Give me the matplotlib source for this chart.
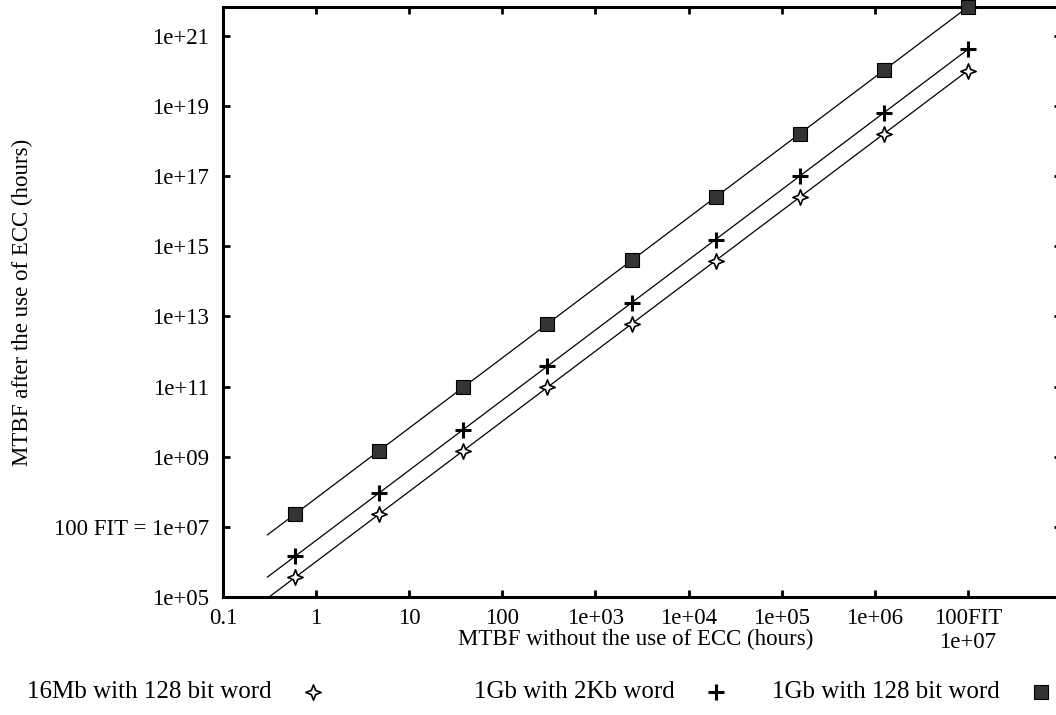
import matplotlib.pyplot as plt
from matplotlib.lines import Line2D
from matplotlib.path import Path

plt.rcParams["font.family"] = ["Liberation Serif", "DejaVu Serif"]

# MTBF without ECC (hours) at the sampled points
mtbf_no_ecc = [0.596, 4.77, 38.1, 305, 2441, 19531, 156250, 1.25e6, 1e7]

# MTBF with ECC (hours) for each memory configuration
mtbf_16mb_128 = [3.6e5, 2.3e7, 1.5e9, 9.5e10, 6.1e12, 3.9e14, 2.5e16, 1.6e18, 1.02e20]
mtbf_1gb_2kb = [1.45e6, 9.3e7, 5.9e9, 3.8e11, 2.4e13, 1.55e15, 9.9e16, 6.3e18, 4.07e20]
mtbf_1gb_128 = [2.34e7, 1.5e9, 9.6e10, 6.15e12, 3.94e14, 2.52e16, 1.61e18, 1.03e20, 6.6e21]

# fitted curves, drawn between their end points
curve_x = [0.3, 1e7]
curve_16mb_128 = [9.2e4, 1.02e20]
curve_1gb_2kb = [3.7e5, 4.07e20]
curve_1gb_128 = [5.9e6, 6.6e21]

series_labels = ["16Mb with 128 bit word", "1Gb with 2Kb word", "1Gb with 128 bit word"]

x_ticks = [0.1, 1, 10, 100, 1e3, 1e4, 1e5, 1e6, 1e7]
x_ticklabels = ["0.1", "1", "10", "100", "1e+03", "1e+04", "1e+05", "1e+06", "100FIT\n1e+07"]
y_ticks = [1e5, 1e7, 1e9, 1e11, 1e13, 1e15, 1e17, 1e19, 1e21]
y_ticklabels = ["1e+05", "100 FIT = 1e+07", "1e+09", "1e+11", "1e+13",
                "1e+15", "1e+17", "1e+19", "1e+21"]

# hollow four-pointed star
star = Path([(0, 1), (0.28, 0.28), (1, 0), (0.28, -0.28), (0, -1),
             (-0.28, -0.28), (-1, 0), (-0.28, 0.28), (0, 1)],
            [Path.MOVETO] + [Path.LINETO] * 7 + [Path.CLOSEPOLY])

styles = [
    dict(marker=star, markersize=11, markerfacecolor="white",
         markeredgecolor="black", markeredgewidth=1.2),
    dict(marker="+", markersize=12, markeredgecolor="black", markeredgewidth=2.2),
    dict(marker="s", markersize=9.5, markerfacecolor="#333333",
         markeredgecolor="black", markeredgewidth=0.8),
]

W, H = 1056, 715
fig = plt.figure(figsize=(W / 100, H / 100), dpi=100)
ax = fig.add_axes([223 / W, (H - 597) / H, (1061 - 223) / W, (597 - 7) / H])

for cx, cy in [(curve_x, curve_16mb_128), (curve_x, curve_1gb_2kb), (curve_x, curve_1gb_128)]:
    ax.plot(cx, cy, color="black", linewidth=0.9)

for ys, st in zip([mtbf_16mb_128, mtbf_1gb_2kb, mtbf_1gb_128], styles):
    ax.plot(mtbf_no_ecc, ys, linestyle="none", clip_on=False, zorder=3, **st)

ax.set_xscale("log")
ax.set_yscale("log")
ax.set_xlim(0.1, 1e8)
ax.set_ylim(1e5, mtbf_1gb_128[-1])

ax.set_xticks(x_ticks)
ax.set_xticklabels(x_ticklabels)
ax.set_yticks(y_ticks)
ax.set_yticklabels(y_ticklabels)
ax.minorticks_off()
ax.tick_params(axis="both", which="major", direction="in", length=5, width=2,
               top=True, right=True, labelsize=16.5, color="black")
ax.tick_params(axis="x", pad=8)
ax.tick_params(axis="y", pad=10)
for sp in ax.spines.values():
    sp.set_linewidth(2.2)

ax.set_xlabel("MTBF without the use of ECC (hours)", fontsize=16.5)
ax.xaxis.set_label_coords(636 / W, (H - 629) / H, transform=fig.transFigure)
ax.set_ylabel("MTBF after the use of ECC (hours)", fontsize=16.5)
ax.yaxis.set_label_coords(33 / W, (H - 302) / H, transform=fig.transFigure)

# key along the bottom: label, then the marker
key_marker_x = [313, 716, 1041]
key_y = 692
for lab, mx, st in zip(series_labels, key_marker_x, styles):
    fig.text((mx - 41) / W, (H - key_y) / H, lab, ha="right", va="center", fontsize=18)
    fig.add_artist(Line2D([mx / W], [(H - key_y) / H], transform=fig.transFigure,
                          linestyle="none", **st))

fig.savefig("out.png", dpi=100)
